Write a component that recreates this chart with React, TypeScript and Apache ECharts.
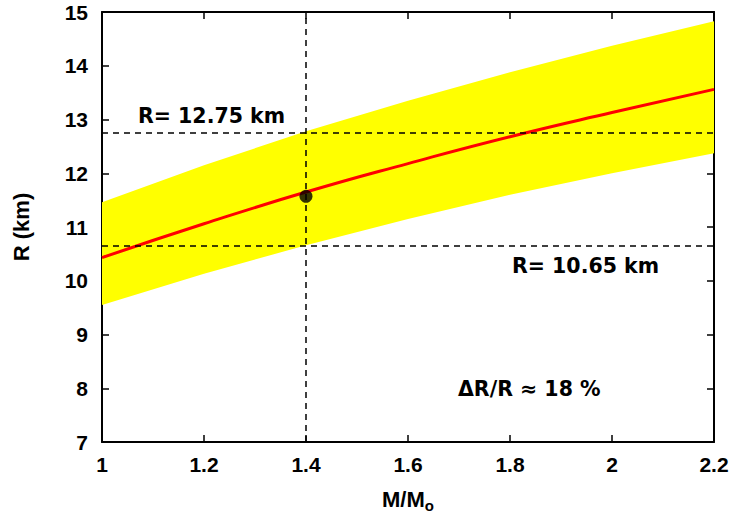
import React, { useEffect, useRef } from "react";
import * as echarts from "echarts";

const MASS = [1.0, 1.2, 1.4, 1.6, 1.8, 2.0, 2.2];
const RADIUS_FIT = [10.43, 11.06, 11.65, 12.18, 12.68, 13.13, 13.56];
const RADIUS_UPPER = [11.46, 12.15, 12.78, 13.35, 13.88, 14.37, 14.83];
const RADIUS_LOWER = [9.55, 10.13, 10.66, 11.15, 11.6, 12.0, 12.37];
const POINT = [1.4, 11.57];
const R_HIGH = 12.75;
const R_LOW = 10.65;
const M_REF = 1.4;
const LABEL_HIGH = "R= 12.75 km";
const LABEL_LOW = "R= 10.65 km";
const LABEL_DELTA = "ΔR/R ≈ 18 %";

const TICK_FONT = "Liberation Sans";
const NOTE_FONT = "DejaVu Sans";

export default function App() {
  const ref = useRef<HTMLDivElement>(null);
  useEffect(() => {
    if (!ref.current) return;
    const chart = echarts.init(ref.current, null, { renderer: "svg" });
    const axisLine = { show: true, lineStyle: { color: "#000", width: 2 } };
    const axisTick = { show: true, inside: true, length: 7, lineStyle: { color: "#000", width: 1.5 } };
    const tickLabel = { color: "#000", fontFamily: TICK_FONT, fontSize: 21, fontWeight: "bold" };
    const noteStyle = { fontFamily: NOTE_FONT, fontSize: 20.5, fontWeight: "bold", fill: "#000", align: "left", verticalAlign: "middle" };
    const option: any = {
      animation: false,
      backgroundColor: "#fff",
      grid: { left: 102, right: 21, top: 12, bottom: 74 },
      xAxis: [
        {
          type: "value",
          min: 1,
          max: 2.2,
          interval: 0.2,
          position: "bottom",
          axisLine,
          axisTick,
          splitLine: { show: false },
          axisLabel: { ...tickLabel, margin: 12 },
          name: "{a|M/M}{b|o}",
          nameLocation: "middle",
          nameGap: 44,
          nameTextStyle: {
            rich: {
              a: { fontFamily: TICK_FONT, fontSize: 22, fontWeight: "bold", color: "#000" },
              b: { fontFamily: TICK_FONT, fontSize: 15, fontWeight: "bold", color: "#000", padding: [12, 0, 0, 0] },
            },
          },
        },
        {
          type: "value",
          min: 1,
          max: 2.2,
          interval: 0.2,
          position: "top",
          axisLine,
          axisTick,
          splitLine: { show: false },
          axisLabel: { show: false },
        },
      ],
      yAxis: [
        {
          type: "value",
          min: 7,
          max: 15,
          interval: 1,
          position: "left",
          axisLine,
          axisTick,
          splitLine: { show: false },
          axisLabel: { ...tickLabel, margin: 14 },
          name: "R (km)",
          nameLocation: "middle",
          nameGap: 70,
          nameTextStyle: { color: "#000", fontFamily: TICK_FONT, fontSize: 22, fontWeight: "bold" },
        },
        {
          type: "value",
          min: 7,
          max: 15,
          interval: 1,
          position: "right",
          axisLine,
          axisTick,
          splitLine: { show: false },
          axisLabel: { show: false },
        },
      ],
      series: [
        {
          type: "custom",
          xAxisIndex: 0,
          yAxisIndex: 0,
          z: 1,
          silent: true,
          data: MASS.map((m, i) => [m, RADIUS_LOWER[i], RADIUS_UPPER[i]]),
          encode: { x: 0, y: [1, 2] },
          renderItem: (params: any, api: any) => {
            if (params.dataIndex !== 0) return null;
            const top = MASS.map((m, i) => api.coord([m, RADIUS_UPPER[i]]));
            const bottom = MASS.map((m, i) => api.coord([m, RADIUS_LOWER[i]])).reverse();
            return {
              type: "polygon",
              shape: { points: top.concat(bottom) },
              style: { fill: "#ffff00", stroke: "none" },
            };
          },
        },
        {
          type: "line",
          xAxisIndex: 0,
          yAxisIndex: 0,
          z: 3,
          data: MASS.map((m, i) => [m, RADIUS_FIT[i]]),
          smooth: true,
          showSymbol: false,
          lineStyle: { color: "#ff0000", width: 3 },
          markLine: {
            silent: true,
            symbol: ["none", "none"],
            label: { show: false },
            lineStyle: { color: "#000", width: 1.5, type: [6, 5] },
            data: [{ yAxis: R_HIGH }, { yAxis: R_LOW }, { xAxis: M_REF }],
          },
        },
        {
          type: "scatter",
          xAxisIndex: 0,
          yAxisIndex: 0,
          z: 4,
          data: [POINT],
          symbol: "circle",
          symbolSize: 13,
          itemStyle: { color: "#000" },
        },
      ],
      graphic: [
        { type: "text", x: 138, y: 116, style: { text: LABEL_HIGH, ...noteStyle } },
        { type: "text", x: 512, y: 266, style: { text: LABEL_LOW, ...noteStyle } },
        { type: "text", x: 458, y: 389, style: { text: LABEL_DELTA, ...noteStyle } },
      ],
    };
    chart.setOption(option);
    return () => chart.dispose();
  }, []);
  return <div ref={ref} style={{ position: "fixed", left: 0, top: 0, width: 735, height: 518 }} />;
}
